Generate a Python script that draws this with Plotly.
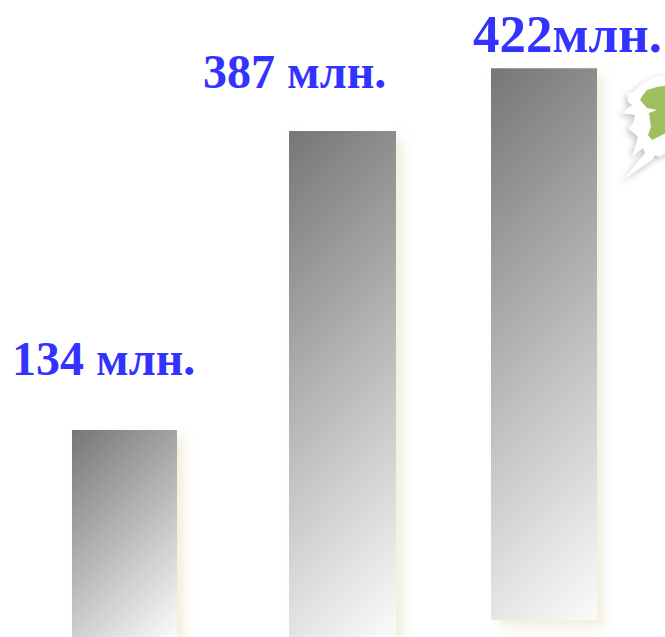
import plotly.graph_objects as go

# Audience sizes and their printed labels
values = [134, 387, 422]
number_labels = ["134", "387", "422"]
unit_labels = [" млн.", " млн.", "млн."]

WIDTH, HEIGHT = 665, 637
BAR_CENTERS = [124.5, 342.5, 544]
BAR_WIDTHS = [105, 107, 106]
# Each bar is a pictogram on its own value axis
AXIS_RANGES = [[0, 412.3], [0, 487.2], [-13, 474.2]]
LABEL_LEFT = [11, 202, 472]
LABEL_MID_Y = [358, 72, 34]
LABEL_SIZES = [48, 48, 53]
TEXT_BLUE = "#3333ff"

fig = go.Figure()
for i, value in enumerate(values):
    fig.add_trace(go.Bar(
        x=[BAR_CENTERS[i]], y=[value], width=[BAR_WIDTHS[i]],
        yaxis="y" if i == 0 else f"y{i + 1}",
        marker=dict(color="#aaaaaa", line=dict(width=0)),
        hoverinfo="skip", showlegend=False,
    ))

annotations = [
    dict(
        text=f"<b>{number_labels[i]}{unit_labels[i]}</b>",
        x=LABEL_LEFT[i], xref="x", xanchor="left",
        y=1 - LABEL_MID_Y[i] / HEIGHT, yref="paper", yanchor="middle",
        showarrow=False, borderpad=0,
        font=dict(family="Liberation Serif", size=LABEL_SIZES[i], color=TEXT_BLUE),
    )
    for i in range(len(values))
]


def px_path(points, dx=0, dy=0):
    """Build a closed path in paper coordinates from top-left pixel positions."""
    parts = [f"{'M' if k == 0 else 'L'}{(x + dx) / WIDTH:.4f},{1 - (y + dy) / HEIGHT:.4f}"
             for k, (x, y) in enumerate(points)]
    return " ".join(parts) + " Z"


# Torn-paper corner ornament: blurred shadow, white paper, green map fragment
paper_outline = [(672, 74), (655, 77), (643, 83), (633, 92), (627, 93), (628, 102), (632, 105),
                 (622, 113), (635, 115), (633, 123), (628, 128), (638, 137), (632, 157),
                 (643, 148), (645, 153), (623, 180), (652, 160), (655, 155), (660, 157), (672, 148)]
green_outline = [(640, 100), (643, 95), (647, 90), (657, 87), (670, 85), (670, 131), (652, 140),
                 (648, 135), (651, 127), (649, 113), (657, 110), (647, 108)]
ornament = [
    dict(type="path", xref="paper", yref="paper", path=px_path(paper_outline, dx=-2, dy=3),
         fillcolor="#c4c4c4", line=dict(width=0), layer="above"),
    dict(type="path", xref="paper", yref="paper", path=px_path(paper_outline),
         fillcolor="#ffffff", line=dict(width=0), layer="above"),
    dict(type="path", xref="paper", yref="paper", path=px_path(green_outline),
         fillcolor="#a0bf5e", line=dict(width=0), layer="above"),
]

hidden = dict(visible=False, fixedrange=True)
fig.update_layout(
    width=WIDTH, height=HEIGHT,
    margin=dict(l=0, r=0, t=0, b=0),
    paper_bgcolor="white", plot_bgcolor="white",
    barmode="overlay",
    xaxis=dict(range=[0, WIDTH], **hidden),
    yaxis=dict(range=AXIS_RANGES[0], **hidden),
    yaxis2=dict(range=AXIS_RANGES[1], overlaying="y", **hidden),
    yaxis3=dict(range=AXIS_RANGES[2], overlaying="y", **hidden),
    annotations=annotations,
    shapes=ornament,
)

# Give the bars a 45 degree grey ramp and a soft cream drop shadow
bar_style = """
var gd = document.getElementById('{plot_id}');
var svg = gd.querySelector('svg.main-svg');
var ns = 'http://www.w3.org/2000/svg';
var defs = document.createElementNS(ns, 'defs');
svg.insertBefore(defs, svg.firstChild);
var flt = document.createElementNS(ns, 'filter');
flt.setAttribute('id', 'barShadow');
flt.setAttribute('x', '-30%'); flt.setAttribute('y', '-10%');
flt.setAttribute('width', '160%'); flt.setAttribute('height', '130%');
flt.innerHTML = '<feDropShadow dx="7" dy="7" stdDeviation="6" flood-color="#e8e3c8" flood-opacity="0.6"/>';
defs.appendChild(flt);
gd.querySelectorAll('.bars .point path').forEach(function (p, i) {
  var b = p.getBBox();
  var d = (b.width + b.height) / 2;
  var g = document.createElementNS(ns, 'linearGradient');
  g.setAttribute('id', 'barRamp' + i);
  g.setAttribute('gradientUnits', 'userSpaceOnUse');
  g.setAttribute('x1', b.x); g.setAttribute('y1', b.y);
  g.setAttribute('x2', b.x + d); g.setAttribute('y2', b.y + d);
  g.innerHTML = '<stop offset="0" stop-color="#767676"/><stop offset="1" stop-color="#fbfbfb"/>';
  defs.appendChild(g);
  p.style.fill = 'url(#barRamp' + i + ')';
  p.style.filter = 'url(#barShadow)';
});
var orn = gd.querySelectorAll('.shapelayer path');
if (orn.length) { orn[0].style.filter = 'blur(3px)'; }
"""

fig.write_html("out.html", post_script=bar_style, config=dict(displayModeBar=False))
